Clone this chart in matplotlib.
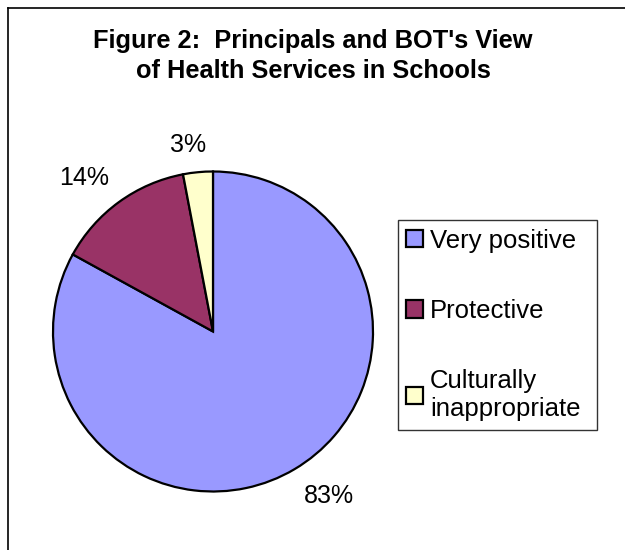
import matplotlib
matplotlib.use("Agg")
import matplotlib.pyplot as plt
import numpy as np
from matplotlib.patches import Patch
from matplotlib.lines import Line2D

# Data
categories = ["Very positive", "Protective", "Culturally\ninappropriate"]
shares = [83, 14, 3]
colors = ["#9999FF", "#993366", "#FFFFCC"]
title = "Figure 2:  Principals and BOT's View\nof Health Services in Schools"

plt.rcParams["font.family"] = ["Liberation Sans", "DejaVu Sans"]

W, H = 625, 550
fig = plt.figure(figsize=(W / 100, H / 100), dpi=100)
fig.patch.set_facecolor("white")

# Outer chart frame (top and left edges visible)
fig.add_artist(Line2D([7.5 / W, 7.5 / W], [0, 1 - 7.5 / H], transform=fig.transFigure,
                      color="black", lw=1.2))
fig.add_artist(Line2D([7.5 / W, 1], [1 - 7.5 / H, 1 - 7.5 / H], transform=fig.transFigure,
                      color="black", lw=1.2))

fig.text(313 / W, 1 - 56 / H, title, ha="center", va="center",
         fontsize=18.3, fontweight="bold", linespacing=1.3)

# Pie axes: centre (213, 331.5), radius 160 px
cx, cy, r = 213, 331.5, 160
ax = fig.add_axes([(cx - r) / W, 1 - (cy + r) / H, 2 * r / W, 2 * r / H])
wedges, _ = ax.pie(shares, colors=colors, startangle=90, counterclock=False,
                   wedgeprops=dict(edgecolor="black", linewidth=1.6), radius=1)
ax.set_xlim(-1, 1)
ax.set_ylim(-1, 1)
ax.set_aspect("equal")
ax.axis("off")

# Percentage labels outside each wedge (radial distance, angular nudge in degrees)
label_place = [(1.258, 4.6), (1.253, 4.0), (1.176, 2.2)]
for w, v, (d, nudge) in zip(wedges, shares, label_place):
    ang = np.deg2rad((w.theta1 + w.theta2) / 2 + nudge)
    ax.text(d * np.cos(ang), d * np.sin(ang), f"{v}%", ha="center", va="center",
            fontsize=18, clip_on=False)

# Legend box spanning x 397.5..597, top at y 220 (pixels from top-left)
handles = [Patch(facecolor=c, edgecolor="black", linewidth=1.6) for c in colors]
leg = fig.legend(handles, categories, loc="upper left",
                 bbox_to_anchor=(397.5 / W, 1 - 428 / H, 199.5 / W, 208 / H),
                 mode="expand", fontsize=18.5,
                 frameon=True, fancybox=False, edgecolor="black",
                 handlelength=0.66, handleheight=0.66, handletextpad=0.26,
                 labelspacing=1.8, borderpad=0.34, borderaxespad=0)
leg.get_frame().set_linewidth(1.0)

fig.savefig("out.png", dpi=100, facecolor="white")
